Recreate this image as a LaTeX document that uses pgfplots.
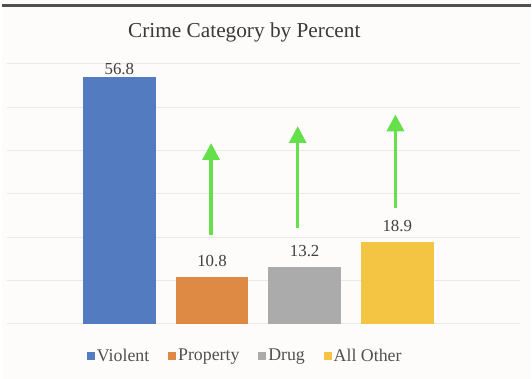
\documentclass[border=0pt]{standalone}
\usepackage{pgfplots}
\pgfplotsset{compat=1.18}
\usepackage{fontspec}
\setmainfont{Liberation Serif}
\usetikzlibrary{arrows.meta}
\definecolor{bg}{HTML}{FDFCFA}
\definecolor{topline}{HTML}{505050}
\definecolor{titlec}{HTML}{3A3A3A}
\definecolor{labc}{HTML}{404040}
\definecolor{legc}{HTML}{505050}
\definecolor{gridc}{HTML}{E9E9E9}
\definecolor{cblue}{HTML}{527BC0}
\definecolor{corange}{HTML}{DE8A45}
\definecolor{cgray}{HTML}{ABABAB}
\definecolor{cyellow}{HTML}{F4C542}
\definecolor{arrowg}{HTML}{66E04A}
\begin{document}
\begin{tikzpicture}[x=1bp,y=1bp]
\fill[bg] (0,0) rectangle (532,381);
\draw[line width=3bp, topline] (0,375.5) -- (532,375.5);
\node[font=\fontsize{21.5}{25}\selectfont, text=titlec] at (244,348) {Crime Category by Percent};
\begin{axis}[
 at={(5bp,55bp)}, anchor=south west,
 scale only axis, width=516bp, height=262bp,
 xmin=-1.215, xmax=4.32, ymin=0, ymax=60,
 ytick={0,10,...,60}, yticklabels={}, xtick=\empty,
 ymajorgrids, grid style={gridc, line width=1bp},
 axis line style={draw=none}, major tick length=0pt,
 clip=false,
 /pgf/number format/assume math mode=true,
 legend columns=4,
 legend style={at={(0.465,-0.122)}, anchor=center, draw=none, fill=none,
   font=\fontsize{18}{21}\selectfont, text=legc,
   /tikz/every odd column/.append style={column sep=0bp},
   /tikz/every even column/.append style={column sep=17bp}},
 legend image code/.code={\fill[#1] (0bp,-4bp) rectangle (8bp,4bp);},
 nodes near coords style={font=\fontsize{17}{20}\selectfont, text=labc, anchor=center, yshift=16bp},
]
\addplot[ybar, bar width=0.785, bar shift=0pt, fill=cblue, draw=none, nodes near coords, nodes near coords style={yshift=-7bp}] coordinates {(0,56.8)};
\addlegendentry{Violent}
\addplot[ybar, bar width=0.785, bar shift=0pt, fill=corange, draw=none, nodes near coords] coordinates {(1,10.8)};
\addlegendentry{Property}
\addplot[ybar, bar width=0.785, bar shift=0pt, fill=cgray, draw=none, nodes near coords] coordinates {(2,13.2)};
\addlegendentry{Drug}
\addplot[ybar, bar width=0.785, bar shift=0pt, fill=cyellow, draw=none, nodes near coords] coordinates {(3,18.9)};
\addlegendentry{All Other}
\addplot[forget plot, draw=arrowg, line width=3.5bp, -{Triangle[width=17bp,length=17bp]}] coordinates {(0.99,20.4) (0.99,41.7)};
\addplot[forget plot, draw=arrowg, line width=3.5bp, -{Triangle[width=17bp,length=17bp]}] coordinates {(1.925,22.2) (1.925,45.6)};
\addplot[forget plot, draw=arrowg, line width=3.5bp, -{Triangle[width=17bp,length=17bp]}] coordinates {(2.98,26.8) (2.98,48.3)};
\end{axis}
\end{tikzpicture}
\end{document}
